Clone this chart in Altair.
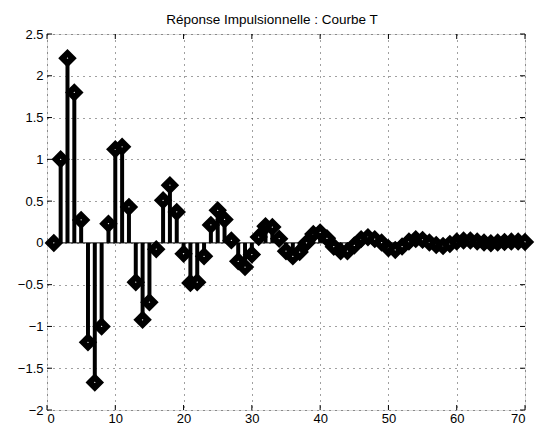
import altair as alt
import pandas as pd

# sample index (1..70) and impulse response values
n = list(range(1, 71))
h = [0.0, 1.0, 2.21, 1.80, 0.275, -1.19, -1.67, -1.0, 0.23, 1.12,
     1.15, 0.43, -0.47, -0.92, -0.71, -0.075, 0.51, 0.69, 0.37, -0.13,
     -0.48, -0.47, -0.16, 0.215, 0.39, 0.28, 0.03, -0.22, -0.29, -0.14,
     0.07, 0.20, 0.19, 0.05, -0.10, -0.16, -0.11, 0.0, 0.105, 0.125,
     0.055, -0.045, -0.10, -0.10, -0.03, 0.045, 0.068, 0.045, 0.004, -0.064,
     -0.084, -0.044, 0.016, 0.045, 0.036, 0.004, -0.024, -0.036, -0.012, 0.016,
     0.028, 0.028, 0.016, 0.004, -0.004, 0.004, 0.012, 0.016, 0.016, 0.012]

x_ticks = [0, 10, 20, 30, 40, 50, 60, 70]
y_ticks = [-2, -1.5, -1, -0.5, 0, 0.5, 1, 1.5, 2, 2.5]
title_text = "Réponse Impulsionnelle : Courbe T"

W, H = 478, 376
FONT = "Liberation Sans"

df = pd.DataFrame({"n": n, "h": h})
df["zero"] = 0.0
base_df = pd.DataFrame({"x0": [min(n)], "x1": [max(n)], "y": [0.0]})
xt = pd.DataFrame({"t": x_ticks})
yt = pd.DataFrame({"t": y_ticks})
title_df = pd.DataFrame({"label": [title_text]})

xs = alt.Scale(domain=[0, 70], nice=False, zero=False)
ys = alt.Scale(domain=[-2, 2.5], nice=False, zero=False)

x_axis = alt.Axis(values=x_ticks, format="~g", grid=True, gridColor="#000",
                  gridDash=[1, 5], gridOpacity=0.75, gridWidth=1,
                  tickSize=0, domain=False, labelFont=FONT, labelFontSize=13,
                  labelColor="#000", labelPadding=2, title=None)
y_axis = alt.Axis(values=y_ticks, format="~g", grid=True, gridColor="#000",
                  gridDash=[1, 5], gridOpacity=0.75, gridWidth=1,
                  tickSize=0, domain=False, labelFont=FONT, labelFontSize=13,
                  labelColor="#000", labelPadding=4, title=None)

stems = alt.Chart(df).mark_rule(color="#000", strokeWidth=4).encode(
    x=alt.X("n:Q", scale=xs, axis=x_axis),
    y=alt.Y("zero:Q", scale=ys, axis=y_axis),
    y2="h:Q",
)

baseline = alt.Chart(base_df).mark_rule(color="#000", strokeWidth=1).encode(
    x=alt.X("x0:Q", scale=xs), x2="x1:Q", y=alt.Y("y:Q", scale=ys)
)

markers = alt.Chart(df).mark_point(
    shape="diamond", filled=False, fill="#fff", fillOpacity=1,
    stroke="#000", strokeWidth=6, size=100, opacity=1
).encode(x=alt.X("n:Q", scale=xs), y=alt.Y("h:Q", scale=ys))

tk = dict(color="#000", strokeWidth=1)
xtick_b = alt.Chart(xt).mark_rule(**tk).encode(
    x=alt.X("t:Q", scale=xs), y=alt.value(H - 5), y2=alt.value(H))
xtick_t = alt.Chart(xt).mark_rule(**tk).encode(
    x=alt.X("t:Q", scale=xs), y=alt.value(0), y2=alt.value(5))
ytick_l = alt.Chart(yt).mark_rule(**tk).encode(
    y=alt.Y("t:Q", scale=ys), x=alt.value(0), x2=alt.value(5))
ytick_r = alt.Chart(yt).mark_rule(**tk).encode(
    y=alt.Y("t:Q", scale=ys), x=alt.value(W - 5), x2=alt.value(W))

title = alt.Chart(title_df).mark_text(
    font=FONT, fontSize=13.5, color="#000", align="center",
    baseline="alphabetic"
).encode(text="label:N", x=alt.value(225), y=alt.value(-10))

chart = alt.layer(
    stems, baseline, markers, xtick_b, xtick_t, ytick_l, ytick_r, title
).properties(
    width=W, height=H,
    autosize=alt.AutoSizeParams(type="none"),
    padding={"left": 47, "top": 34, "right": 22, "bottom": 25},
).configure_view(
    stroke="#000", strokeWidth=1
).configure(background="#fff")

chart.save("out.html", embed_options={"renderer": "svg", "actions": False})
